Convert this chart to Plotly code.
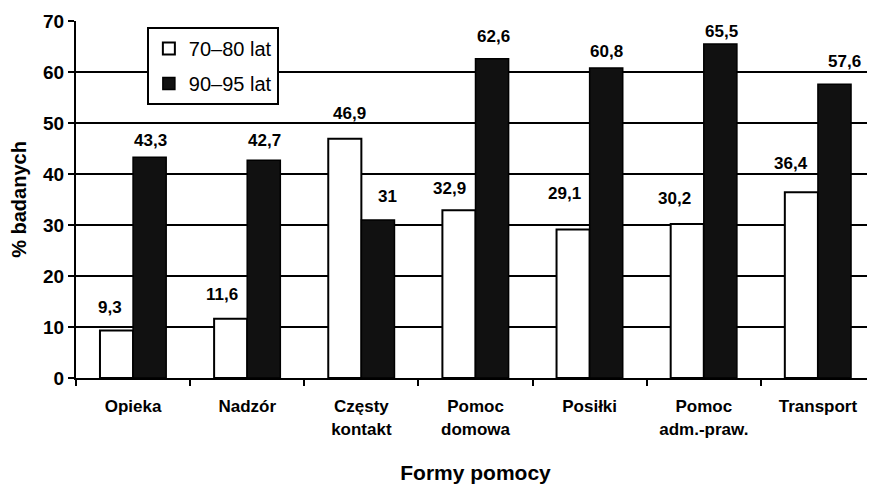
import plotly.graph_objects as go

categories = ["Opieka", "Nadzór", "Częsty<br>kontakt", "Pomoc<br>domowa", "Posiłki", "Pomoc<br>adm.-praw.", "Transport"]
series_names = ["70–80 lat", "90–95 lat"]
values_70_80 = [9.3, 11.6, 46.9, 32.9, 29.1, 30.2, 36.4]
values_90_95 = [43.3, 42.7, 31.0, 62.6, 60.8, 65.5, 57.6]
y_ticks = [0, 10, 20, 30, 40, 50, 60, 70]

# label placement (pixel offsets from category centre / bar top) - styling only
label_dx_70_80 = [-23, -25, -12, -26, -25, -29, -27]
label_dy_70_80 = [23, 24, 25, 22, 36, 25, 29]
label_dx_90_95 = [17, 17, 26, 18, 17, 18, 27]
label_dy_90_95 = [17, 20, 23, 22, 16, 12, 23]


def fmt(v):
    s = ("%.1f" % v).rstrip("0").rstrip(".")
    return s.replace(".", ",")


FONT = "Liberation Sans, Arial, sans-serif"

fig = go.Figure()
fig.add_trace(go.Bar(
    x=categories, y=values_70_80, name=series_names[0], legendgroup="a",
    marker=dict(color="white", line=dict(color="black", width=2)),
))
fig.add_trace(go.Bar(
    x=categories, y=values_90_95, name=series_names[1], legendgroup="b",
    marker=dict(color="#111111", line=dict(color="black", width=1.5)),
))

annotations = []
for vals, dxs, dys in ((values_70_80, label_dx_70_80, label_dy_70_80),
                       (values_90_95, label_dx_90_95, label_dy_90_95)):
    for c, v, dx, dy in zip(categories, vals, dxs, dys):
        annotations.append(dict(
            x=c, y=v, xref="x", yref="y", text=fmt(v), showarrow=False,
            xanchor="center", yanchor="middle", xshift=dx, yshift=dy,
            font=dict(family=FONT, size=17, color="black", weight="bold"),
        ))

fig.update_layout(
    width=867, height=476,
    margin=dict(l=68, r=0, t=13, b=106),
    paper_bgcolor="white", plot_bgcolor="white",
    barmode="group", bargap=0.42, bargroupgap=0,
    font=dict(family=FONT, color="black"),
    showlegend=True,
    legend=dict(
        x=0.0887, y=0.983, xanchor="left", yanchor="top",
        bgcolor="white", bordercolor="black", borderwidth=2,
        font=dict(family=FONT, size=20, color="black"),
        traceorder="grouped", tracegroupgap=6,
    ),
    annotations=annotations,
)
fig.update_xaxes(
    type="category", automargin=False,
    tickson="boundaries", ticks="outside", ticklen=6, tickwidth=2, tickcolor="black",
    ticklabelstandoff=12,
    showline=True, linecolor="black", linewidth=2,
    tickfont=dict(family=FONT, size=17, color="black", weight="bold"),
    title=dict(text="<b>Formy pomocy</b>", font=dict(family=FONT, size=21, color="black"), standoff=28),
    showgrid=False,
)
fig.update_yaxes(
    range=[0, 70], tickvals=y_ticks, ticktext=[str(t) for t in y_ticks],
    automargin=False,
    ticks="outside", ticklen=6, tickwidth=2, tickcolor="black",
    showline=True, linecolor="black", linewidth=2,
    showgrid=True, gridcolor="black", gridwidth=2,
    zeroline=False,
    tickfont=dict(family=FONT, size=19, color="black", weight="bold"),
    title=dict(text="<b>% badanych</b>", font=dict(family=FONT, size=20, color="black"), standoff=20),
)

fig.write_html("out.html")
